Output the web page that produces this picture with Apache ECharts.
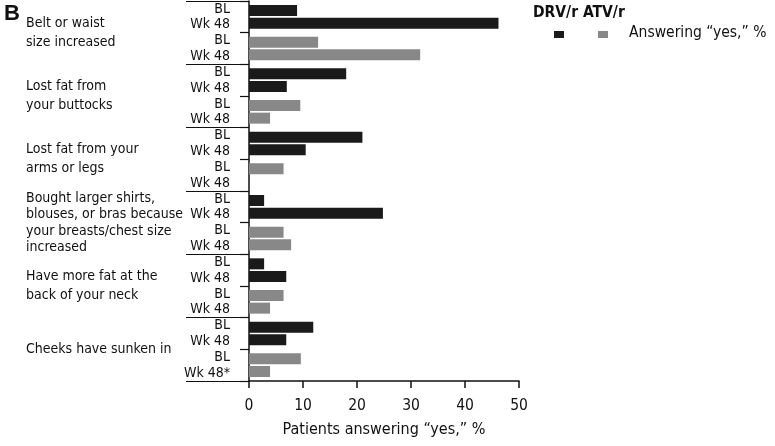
<!DOCTYPE html>
<html><head><meta charset="utf-8">
<script src="https://cdn.jsdelivr.net/npm/echarts@6/dist/echarts.min.js"></script>
<style>html,body{margin:0;padding:0;background:#fff}#c{width:775px;height:446px}</style>
</head><body><div id="c"></div>
<script>
const groups = ['Belt or waist\nsize increased','Lost fat from\nyour buttocks','Lost fat from your\narms or legs','Bought larger shirts,\nblouses, or bras because\nyour breasts/chest size\nincreased','Have more fat at the\nback of your neck','Cheeks have sunken in'];
const rowLabels = ['BL','Wk 48','BL','Wk 48','BL','Wk 48','BL','Wk 48','BL','Wk 48','BL','Wk 48','BL','Wk 48','BL','Wk 48','BL','Wk 48','BL','Wk 48','BL','Wk 48','BL','Wk 48*'];
const pairs = ['g1 DRV','g1 ATV','g2 DRV','g2 ATV','g3 DRV','g3 ATV','g4 DRV','g4 ATV','g5 DRV','g5 ATV','g6 DRV','g6 ATV'];
const drvBL   = [8.9, 18.0, 21.0, 2.8, 2.8, 11.9];
const drvWk48 = [46.2, 7.0, 10.5, 24.8, 6.9, 6.9];
const atvBL   = [12.8, 9.5, 6.4, 6.4, 6.4, 9.6];
const atvWk48 = [31.7, 3.9, 0, 7.8, 3.9, 3.9];
const xTicks = [0, 10, 20, 30, 40, 50];

const FONT = "'DejaVu Sans Condensed','Liberation Sans Narrow',sans-serif";
const BLACK = '#1a1a1a', GRAY = '#888888';
function build(drv, atv){
  const out = [];
  for (let g = 0; g < drv.length; g++){
    out.push({value: drv[g], itemStyle:{color: BLACK}});
    out.push({value: atv[g], itemStyle:{color: GRAY}});
  }
  return out;
}
const chart = echarts.init(document.getElementById('c'), null, {renderer:'canvas'});
chart.setOption({
  animation:false,
  textStyle:{fontFamily: FONT},
  grid:{left:249, top:1, right:256, bottom:65},
  xAxis:{type:'value', min:xTicks[0], max:xTicks[xTicks.length-1], interval:10,
    axisLine:{show:true, lineStyle:{color:'#111', width:1.5}},
    axisTick:{show:true, length:7, lineStyle:{color:'#111', width:1.5}},
    splitLine:{show:false},
    axisLabel:{color:'#111', fontSize:15.5, margin:17, fontFamily:FONT},
    name:'Patients answering \u201Cyes,\u201D %', nameLocation:'middle', nameGap:41,
    nameTextStyle:{color:'#111', fontSize:16, fontFamily:FONT}
  },
  yAxis:[
    {type:'category', data:pairs, inverse:true, position:'left',
      axisLine:{show:true, onZero:false, lineStyle:{color:'#111', width:1.5}},
      axisTick:{show:true, length:9, lineStyle:{color:'#111', width:1.2}},
      axisLabel:{show:false}},
    {type:'category', data:rowLabels, inverse:true, position:'left',
      axisLine:{show:false}, axisTick:{show:false},
      axisLabel:{color:'#111', fontSize:14, margin:19, align:'right', fontFamily:FONT, interval:0}},
    {type:'category', data:groups, inverse:true, position:'left',
      axisLine:{show:false},
      axisTick:{show:true, length:63, lineStyle:{color:'#111', width:1.2}},
      axisLabel:{color:'#111', fontSize:14, margin:223, align:'left', lineHeight:19, fontFamily:FONT, interval:0,
        formatter: function(v){ return v.split('\n').length > 2 ? '{s|' + v + '}' : v; },
        rich:{s:{fontSize:14, lineHeight:16.5, fontFamily:FONT, color:'#111'}}}}
  ],
  legend:{data:[{name:'DRV/r', icon:'rect'},{name:'ATV/r', icon:'rect'}], left:554, top:31, padding:0,
    itemWidth:10, itemHeight:7, itemGap:34, selectedMode:false, formatter:function(){return '';}},
  graphic:[
    {type:'text', left:4, top:3, style:{text:'B', font:"bold 22px 'Liberation Sans', sans-serif", fill:'#111'}},
    {type:'text', left:533, top:5, style:{text:'DRV/r ATV/r', font:"bold 15.5px " + FONT, fill:'#111'}},
    {type:'text', left:629, top:25, style:{text:'Answering \u201Cyes,\u201D %', font:"15.5px " + FONT, fill:'#111'}}
  ],
  series:[
    {name:'BL', type:'bar', yAxisIndex:0, data:build(drvBL, atvBL), barWidth:11, barGap:'15%'},
    {name:'Wk 48', type:'bar', yAxisIndex:0, data:build(drvWk48, atvWk48), barWidth:11, barGap:'15%'},
    {name:'DRV/r', type:'line', data:[], itemStyle:{color:BLACK}},
    {name:'ATV/r', type:'line', data:[], itemStyle:{color:GRAY}}
  ]
});
</script></body></html>
